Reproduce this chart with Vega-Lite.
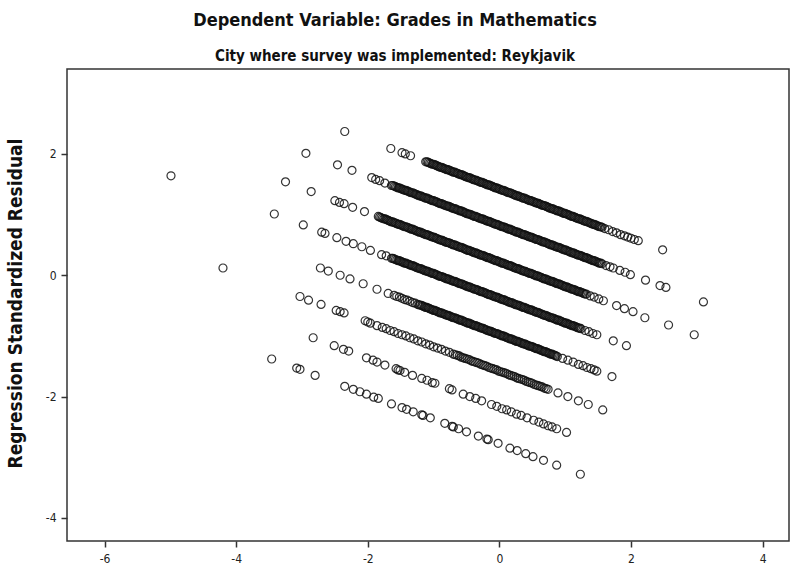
{
"$schema":"https://vega.github.io/schema/vega-lite/v6.json",
"width":722,"height":472,
"autosize":{"type":"none"},
"padding":{"left":67,"top":69,"right":1,"bottom":25},
"background":"#ffffff",
"config":{"view":{"stroke":"#333333","strokeWidth":1.5},"font":"DejaVu Sans Condensed, Liberation Sans Narrow, DejaVu Sans, sans-serif"},
"title":{"text":"Dependent Variable: Grades in Mathematics","subtitle":"City where survey was implemented: Reykjavik","anchor":"middle","dx":-33,"offset":5,"fontSize":18,"fontWeight":"bold","color":"#111111","subtitleFontSize":15,"subtitleFontWeight":"bold","subtitleColor":"#111111","subtitlePadding":19},
"data":{"values":[
{"x":-2.35,"y":2.37},{"x":-1.65,"y":2.09},{"x":-1.48,"y":2.02},{"x":-1.43,"y":2.0},{"x":-1.35,"y":1.97},
{"x":-1.12,"y":1.87},{"x":-1.08,"y":1.86},{"x":-1.04,"y":1.84},{"x":-1.0,"y":1.83},{"x":-0.96,"y":1.81},{"x":-0.92,"y":1.79},{"x":-0.88,"y":1.78},{"x":-0.84,"y":1.76},{"x":-0.8,"y":1.74},{"x":-0.76,"y":1.73},{"x":-0.72,"y":1.71},{"x":-0.68,"y":1.7},{"x":-0.64,"y":1.68},{"x":-0.6,"y":1.66},{"x":-0.56,"y":1.65},{"x":-0.52,"y":1.63},{"x":-0.48,"y":1.61},{"x":-0.44,"y":1.6},{"x":-0.4,"y":1.58},{"x":-0.36,"y":1.57},{"x":-0.32,"y":1.55},{"x":-0.28,"y":1.53},{"x":-0.24,"y":1.52},{"x":-0.2,"y":1.5},{"x":-0.16,"y":1.49},{"x":-0.12,"y":1.47},{"x":-0.08,"y":1.45},{"x":-0.04,"y":1.44},{"x":0.0,"y":1.42},{"x":0.04,"y":1.4},{"x":0.08,"y":1.39},{"x":0.12,"y":1.37},{"x":0.16,"y":1.36},{"x":0.2,"y":1.34},{"x":0.24,"y":1.32},{"x":0.28,"y":1.31},{"x":0.32,"y":1.29},{"x":0.36,"y":1.27},{"x":0.4,"y":1.26},{"x":0.44,"y":1.24},{"x":0.48,"y":1.23},{"x":0.52,"y":1.21},{"x":0.56,"y":1.19},{"x":0.6,"y":1.18},{"x":0.64,"y":1.16},{"x":0.68,"y":1.15},{"x":0.72,"y":1.13},{"x":0.76,"y":1.11},{"x":0.8,"y":1.1},{"x":0.84,"y":1.08},{"x":0.88,"y":1.06},{"x":0.92,"y":1.05},{"x":0.96,"y":1.03},{"x":1.0,"y":1.02},{"x":1.04,"y":1.0},{"x":1.08,"y":0.98},{"x":1.12,"y":0.97},{"x":1.16,"y":0.95},{"x":1.2,"y":0.93},{"x":1.24,"y":0.92},{"x":1.28,"y":0.9},{"x":1.32,"y":0.89},{"x":1.36,"y":0.87},{"x":1.4,"y":0.85},{"x":1.44,"y":0.84},{"x":1.48,"y":0.82},{"x":1.52,"y":0.8},{"x":1.56,"y":0.79},{"x":1.6,"y":0.77},
{"x":-1.1,"y":1.87},{"x":-1.06,"y":1.85},{"x":-1.02,"y":1.83},{"x":-0.98,"y":1.82},{"x":-0.94,"y":1.8},{"x":-0.9,"y":1.78},{"x":-0.86,"y":1.77},{"x":-0.82,"y":1.75},{"x":-0.78,"y":1.74},{"x":-0.74,"y":1.72},{"x":-0.7,"y":1.7},{"x":-0.66,"y":1.69},{"x":-0.62,"y":1.67},{"x":-0.58,"y":1.66},{"x":-0.54,"y":1.64},{"x":-0.5,"y":1.62},{"x":-0.46,"y":1.61},{"x":-0.42,"y":1.59},{"x":-0.38,"y":1.57},{"x":-0.34,"y":1.56},{"x":-0.3,"y":1.54},{"x":-0.26,"y":1.53},{"x":-0.22,"y":1.51},{"x":-0.18,"y":1.49},{"x":-0.14,"y":1.48},{"x":-0.1,"y":1.46},{"x":-0.06,"y":1.44},{"x":-0.02,"y":1.43},{"x":0.02,"y":1.41},{"x":0.06,"y":1.4},{"x":0.1,"y":1.38},{"x":0.14,"y":1.36},{"x":0.18,"y":1.35},{"x":0.22,"y":1.33},{"x":0.26,"y":1.31},{"x":0.3,"y":1.3},{"x":0.34,"y":1.28},{"x":0.38,"y":1.27},{"x":0.42,"y":1.25},{"x":0.46,"y":1.23},{"x":0.5,"y":1.22},{"x":0.54,"y":1.2},{"x":0.58,"y":1.19},{"x":0.62,"y":1.17},{"x":0.66,"y":1.15},{"x":0.7,"y":1.14},{"x":0.74,"y":1.12},{"x":0.78,"y":1.1},{"x":0.82,"y":1.09},{"x":0.86,"y":1.07},{"x":0.9,"y":1.06},{"x":0.94,"y":1.04},{"x":0.98,"y":1.02},{"x":1.02,"y":1.01},{"x":1.06,"y":0.99},{"x":1.1,"y":0.97},{"x":1.14,"y":0.96},{"x":1.18,"y":0.94},{"x":1.22,"y":0.93},{"x":1.26,"y":0.91},{"x":1.3,"y":0.89},{"x":1.34,"y":0.88},{"x":1.38,"y":0.86},{"x":1.42,"y":0.84},{"x":1.46,"y":0.83},{"x":1.5,"y":0.81},{"x":1.54,"y":0.8},
{"x":1.66,"y":0.75},{"x":1.72,"y":0.72},{"x":1.78,"y":0.7},{"x":1.84,"y":0.67},{"x":1.9,"y":0.65},{"x":1.95,"y":0.63},{"x":2.0,"y":0.61},{"x":2.05,"y":0.59},{"x":2.11,"y":0.57},{"x":2.48,"y":0.42},
{"x":-2.94,"y":2.01},{"x":-2.46,"y":1.82},{"x":-2.24,"y":1.73},{"x":-1.94,"y":1.61},{"x":-1.88,"y":1.58},{"x":-1.82,"y":1.56},{"x":-1.74,"y":1.52},
{"x":-1.64,"y":1.48},{"x":-1.6,"y":1.47},{"x":-1.56,"y":1.45},{"x":-1.52,"y":1.44},{"x":-1.48,"y":1.42},{"x":-1.44,"y":1.4},{"x":-1.4,"y":1.39},{"x":-1.36,"y":1.37},{"x":-1.32,"y":1.36},{"x":-1.28,"y":1.34},{"x":-1.24,"y":1.32},{"x":-1.2,"y":1.31},{"x":-1.16,"y":1.29},{"x":-1.12,"y":1.27},{"x":-1.08,"y":1.26},{"x":-1.04,"y":1.24},{"x":-1.0,"y":1.23},{"x":-0.96,"y":1.21},{"x":-0.92,"y":1.19},{"x":-0.88,"y":1.18},{"x":-0.84,"y":1.16},{"x":-0.8,"y":1.14},{"x":-0.76,"y":1.13},{"x":-0.72,"y":1.11},{"x":-0.68,"y":1.1},{"x":-0.64,"y":1.08},{"x":-0.6,"y":1.06},{"x":-0.56,"y":1.05},{"x":-0.52,"y":1.03},{"x":-0.48,"y":1.01},{"x":-0.44,"y":1.0},{"x":-0.4,"y":0.98},{"x":-0.36,"y":0.97},{"x":-0.32,"y":0.95},{"x":-0.28,"y":0.93},{"x":-0.24,"y":0.92},{"x":-0.2,"y":0.9},{"x":-0.16,"y":0.89},{"x":-0.12,"y":0.87},{"x":-0.08,"y":0.85},{"x":-0.04,"y":0.84},{"x":0.0,"y":0.82},{"x":0.04,"y":0.8},{"x":0.08,"y":0.79},{"x":0.12,"y":0.77},{"x":0.16,"y":0.76},{"x":0.2,"y":0.74},{"x":0.24,"y":0.72},{"x":0.28,"y":0.71},{"x":0.32,"y":0.69},{"x":0.36,"y":0.67},{"x":0.4,"y":0.66},{"x":0.44,"y":0.64},{"x":0.48,"y":0.63},{"x":0.52,"y":0.61},{"x":0.56,"y":0.59},{"x":0.6,"y":0.58},{"x":0.64,"y":0.56},{"x":0.68,"y":0.55},{"x":0.72,"y":0.53},{"x":0.76,"y":0.51},{"x":0.8,"y":0.5},{"x":0.84,"y":0.48},{"x":0.88,"y":0.46},{"x":0.92,"y":0.45},{"x":0.96,"y":0.43},{"x":1.0,"y":0.42},{"x":1.04,"y":0.4},{"x":1.08,"y":0.38},{"x":1.12,"y":0.37},{"x":1.16,"y":0.35},{"x":1.2,"y":0.33},{"x":1.24,"y":0.32},{"x":1.28,"y":0.3},{"x":1.32,"y":0.29},{"x":1.36,"y":0.27},{"x":1.4,"y":0.25},{"x":1.44,"y":0.24},{"x":1.48,"y":0.22},{"x":1.52,"y":0.2},{"x":1.56,"y":0.19},
{"x":-1.62,"y":1.48},{"x":-1.58,"y":1.46},{"x":-1.54,"y":1.44},{"x":-1.5,"y":1.43},{"x":-1.46,"y":1.41},{"x":-1.42,"y":1.4},{"x":-1.38,"y":1.38},{"x":-1.34,"y":1.36},{"x":-1.3,"y":1.35},{"x":-1.26,"y":1.33},{"x":-1.22,"y":1.31},{"x":-1.18,"y":1.3},{"x":-1.14,"y":1.28},{"x":-1.1,"y":1.27},{"x":-1.06,"y":1.25},{"x":-1.02,"y":1.23},{"x":-0.98,"y":1.22},{"x":-0.94,"y":1.2},{"x":-0.9,"y":1.18},{"x":-0.86,"y":1.17},{"x":-0.82,"y":1.15},{"x":-0.78,"y":1.14},{"x":-0.74,"y":1.12},{"x":-0.7,"y":1.1},{"x":-0.66,"y":1.09},{"x":-0.62,"y":1.07},{"x":-0.58,"y":1.06},{"x":-0.54,"y":1.04},{"x":-0.5,"y":1.02},{"x":-0.46,"y":1.01},{"x":-0.42,"y":0.99},{"x":-0.38,"y":0.97},{"x":-0.34,"y":0.96},{"x":-0.3,"y":0.94},{"x":-0.26,"y":0.93},{"x":-0.22,"y":0.91},{"x":-0.18,"y":0.89},{"x":-0.14,"y":0.88},{"x":-0.1,"y":0.86},{"x":-0.06,"y":0.84},{"x":-0.02,"y":0.83},{"x":0.02,"y":0.81},{"x":0.06,"y":0.8},{"x":0.1,"y":0.78},{"x":0.14,"y":0.76},{"x":0.18,"y":0.75},{"x":0.22,"y":0.73},{"x":0.26,"y":0.71},{"x":0.3,"y":0.7},{"x":0.34,"y":0.68},{"x":0.38,"y":0.67},{"x":0.42,"y":0.65},{"x":0.46,"y":0.63},{"x":0.5,"y":0.62},{"x":0.54,"y":0.6},{"x":0.58,"y":0.59},{"x":0.62,"y":0.57},{"x":0.66,"y":0.55},{"x":0.7,"y":0.54},{"x":0.74,"y":0.52},{"x":0.78,"y":0.5},{"x":0.82,"y":0.49},{"x":0.86,"y":0.47},{"x":0.9,"y":0.46},{"x":0.94,"y":0.44},{"x":0.98,"y":0.42},{"x":1.02,"y":0.41},{"x":1.06,"y":0.39},{"x":1.1,"y":0.37},{"x":1.14,"y":0.36},{"x":1.18,"y":0.34},{"x":1.22,"y":0.33},{"x":1.26,"y":0.31},{"x":1.3,"y":0.29},{"x":1.34,"y":0.28},{"x":1.38,"y":0.26},{"x":1.42,"y":0.24},{"x":1.46,"y":0.23},{"x":1.5,"y":0.21},{"x":1.54,"y":0.2},
{"x":1.62,"y":0.16},{"x":1.68,"y":0.14},{"x":1.73,"y":0.12},{"x":1.83,"y":0.08},{"x":1.91,"y":0.05},{"x":1.99,"y":0.01},{"x":2.22,"y":-0.08},{"x":2.44,"y":-0.17},{"x":2.53,"y":-0.2},{"x":3.1,"y":-0.44},
{"x":-3.25,"y":1.54},{"x":-2.86,"y":1.38},{"x":-2.5,"y":1.23},{"x":-2.43,"y":1.2},{"x":-2.36,"y":1.18},{"x":-2.23,"y":1.12},{"x":-2.05,"y":1.05},
{"x":-1.84,"y":0.97},{"x":-1.8,"y":0.95},{"x":-1.76,"y":0.93},{"x":-1.72,"y":0.92},{"x":-1.68,"y":0.9},{"x":-1.64,"y":0.88},{"x":-1.6,"y":0.87},{"x":-1.56,"y":0.85},{"x":-1.52,"y":0.84},{"x":-1.48,"y":0.82},{"x":-1.44,"y":0.8},{"x":-1.4,"y":0.79},{"x":-1.36,"y":0.77},{"x":-1.32,"y":0.76},{"x":-1.28,"y":0.74},{"x":-1.24,"y":0.72},{"x":-1.2,"y":0.71},{"x":-1.16,"y":0.69},{"x":-1.12,"y":0.67},{"x":-1.08,"y":0.66},{"x":-1.04,"y":0.64},{"x":-1.0,"y":0.63},{"x":-0.96,"y":0.61},{"x":-0.92,"y":0.59},{"x":-0.88,"y":0.58},{"x":-0.84,"y":0.56},{"x":-0.8,"y":0.54},{"x":-0.76,"y":0.53},{"x":-0.72,"y":0.51},{"x":-0.68,"y":0.5},{"x":-0.64,"y":0.48},{"x":-0.6,"y":0.46},{"x":-0.56,"y":0.45},{"x":-0.52,"y":0.43},{"x":-0.48,"y":0.41},{"x":-0.44,"y":0.4},{"x":-0.4,"y":0.38},{"x":-0.36,"y":0.37},{"x":-0.32,"y":0.35},{"x":-0.28,"y":0.33},{"x":-0.24,"y":0.32},{"x":-0.2,"y":0.3},{"x":-0.16,"y":0.29},{"x":-0.12,"y":0.27},{"x":-0.08,"y":0.25},{"x":-0.04,"y":0.24},{"x":0.0,"y":0.22},{"x":0.04,"y":0.2},{"x":0.08,"y":0.19},{"x":0.12,"y":0.17},{"x":0.16,"y":0.16},{"x":0.2,"y":0.14},{"x":0.24,"y":0.12},{"x":0.28,"y":0.11},{"x":0.32,"y":0.09},{"x":0.36,"y":0.07},{"x":0.4,"y":0.06},{"x":0.44,"y":0.04},{"x":0.48,"y":0.03},{"x":0.52,"y":0.01},{"x":0.56,"y":-0.01},{"x":0.6,"y":-0.02},{"x":0.64,"y":-0.04},{"x":0.68,"y":-0.06},{"x":0.72,"y":-0.07},{"x":0.76,"y":-0.09},{"x":0.8,"y":-0.1},{"x":0.84,"y":-0.12},{"x":0.88,"y":-0.14},{"x":0.92,"y":-0.15},{"x":0.96,"y":-0.17},{"x":1.0,"y":-0.19},{"x":1.04,"y":-0.2},{"x":1.08,"y":-0.22},{"x":1.12,"y":-0.23},{"x":1.16,"y":-0.25},{"x":1.2,"y":-0.27},{"x":1.24,"y":-0.28},{"x":1.28,"y":-0.3},{"x":1.32,"y":-0.31},
{"x":-1.82,"y":0.96},{"x":-1.78,"y":0.94},{"x":-1.74,"y":0.93},{"x":-1.7,"y":0.91},{"x":-1.66,"y":0.89},{"x":-1.62,"y":0.88},{"x":-1.58,"y":0.86},{"x":-1.54,"y":0.84},{"x":-1.5,"y":0.83},{"x":-1.46,"y":0.81},{"x":-1.42,"y":0.8},{"x":-1.38,"y":0.78},{"x":-1.34,"y":0.76},{"x":-1.3,"y":0.75},{"x":-1.26,"y":0.73},{"x":-1.22,"y":0.71},{"x":-1.18,"y":0.7},{"x":-1.14,"y":0.68},{"x":-1.1,"y":0.67},{"x":-1.06,"y":0.65},{"x":-1.02,"y":0.63},{"x":-0.98,"y":0.62},{"x":-0.94,"y":0.6},{"x":-0.9,"y":0.58},{"x":-0.86,"y":0.57},{"x":-0.82,"y":0.55},{"x":-0.78,"y":0.54},{"x":-0.74,"y":0.52},{"x":-0.7,"y":0.5},{"x":-0.66,"y":0.49},{"x":-0.62,"y":0.47},{"x":-0.58,"y":0.46},{"x":-0.54,"y":0.44},{"x":-0.5,"y":0.42},{"x":-0.46,"y":0.41},{"x":-0.42,"y":0.39},{"x":-0.38,"y":0.37},{"x":-0.34,"y":0.36},{"x":-0.3,"y":0.34},{"x":-0.26,"y":0.33},{"x":-0.22,"y":0.31},{"x":-0.18,"y":0.29},{"x":-0.14,"y":0.28},{"x":-0.1,"y":0.26},{"x":-0.06,"y":0.24},{"x":-0.02,"y":0.23},{"x":0.02,"y":0.21},{"x":0.06,"y":0.2},{"x":0.1,"y":0.18},{"x":0.14,"y":0.16},{"x":0.18,"y":0.15},{"x":0.22,"y":0.13},{"x":0.26,"y":0.11},{"x":0.3,"y":0.1},{"x":0.34,"y":0.08},{"x":0.38,"y":0.07},{"x":0.42,"y":0.05},{"x":0.46,"y":0.03},{"x":0.5,"y":0.02},{"x":0.54,"y":0.0},{"x":0.58,"y":-0.01},{"x":0.62,"y":-0.03},{"x":0.66,"y":-0.05},{"x":0.7,"y":-0.06},{"x":0.74,"y":-0.08},{"x":0.78,"y":-0.1},{"x":0.82,"y":-0.11},{"x":0.86,"y":-0.13},{"x":0.9,"y":-0.14},{"x":0.94,"y":-0.16},{"x":0.98,"y":-0.18},{"x":1.02,"y":-0.19},{"x":1.06,"y":-0.21},{"x":1.1,"y":-0.23},{"x":1.14,"y":-0.24},{"x":1.18,"y":-0.26},{"x":1.22,"y":-0.27},{"x":1.26,"y":-0.29},{"x":1.3,"y":-0.31},
{"x":1.38,"y":-0.34},{"x":1.44,"y":-0.36},{"x":1.51,"y":-0.39},{"x":1.58,"y":-0.42},{"x":1.78,"y":-0.5},{"x":1.9,"y":-0.55},{"x":2.03,"y":-0.6},{"x":2.21,"y":-0.7},{"x":2.57,"y":-0.82},{"x":2.96,"y":-0.98},
{"x":-4.99,"y":1.64},{"x":-3.42,"y":1.01},{"x":-2.98,"y":0.83},{"x":-2.7,"y":0.71},{"x":-2.65,"y":0.69},{"x":-2.47,"y":0.62},{"x":-2.33,"y":0.56},{"x":-2.22,"y":0.52},{"x":-2.09,"y":0.47},{"x":-1.96,"y":0.41},{"x":-1.79,"y":0.34},{"x":-1.72,"y":0.32},
{"x":-1.64,"y":0.28},{"x":-1.6,"y":0.27},{"x":-1.56,"y":0.25},{"x":-1.52,"y":0.24},{"x":-1.48,"y":0.22},{"x":-1.44,"y":0.2},{"x":-1.4,"y":0.19},{"x":-1.36,"y":0.17},{"x":-1.32,"y":0.16},{"x":-1.28,"y":0.14},{"x":-1.24,"y":0.12},{"x":-1.2,"y":0.11},{"x":-1.16,"y":0.09},{"x":-1.12,"y":0.07},{"x":-1.08,"y":0.06},{"x":-1.04,"y":0.04},{"x":-1.0,"y":0.03},{"x":-0.96,"y":0.01},{"x":-0.92,"y":-0.01},{"x":-0.88,"y":-0.02},{"x":-0.84,"y":-0.04},{"x":-0.8,"y":-0.06},{"x":-0.76,"y":-0.07},{"x":-0.72,"y":-0.09},{"x":-0.68,"y":-0.1},{"x":-0.64,"y":-0.12},{"x":-0.6,"y":-0.14},{"x":-0.56,"y":-0.15},{"x":-0.52,"y":-0.17},{"x":-0.48,"y":-0.19},{"x":-0.44,"y":-0.2},{"x":-0.4,"y":-0.22},{"x":-0.36,"y":-0.23},{"x":-0.32,"y":-0.25},{"x":-0.28,"y":-0.27},{"x":-0.24,"y":-0.28},{"x":-0.2,"y":-0.3},{"x":-0.16,"y":-0.32},{"x":-0.12,"y":-0.33},{"x":-0.08,"y":-0.35},{"x":-0.04,"y":-0.36},{"x":0.0,"y":-0.38},{"x":0.04,"y":-0.4},{"x":0.08,"y":-0.41},{"x":0.12,"y":-0.43},{"x":0.16,"y":-0.45},{"x":0.2,"y":-0.46},{"x":0.24,"y":-0.48},{"x":0.28,"y":-0.49},{"x":0.32,"y":-0.51},{"x":0.36,"y":-0.53},{"x":0.4,"y":-0.54},{"x":0.44,"y":-0.56},{"x":0.48,"y":-0.57},{"x":0.52,"y":-0.59},{"x":0.56,"y":-0.61},{"x":0.6,"y":-0.62},{"x":0.64,"y":-0.64},{"x":0.68,"y":-0.66},{"x":0.72,"y":-0.67},{"x":0.76,"y":-0.69},{"x":0.8,"y":-0.7},{"x":0.84,"y":-0.72},{"x":0.88,"y":-0.74},{"x":0.92,"y":-0.75},{"x":0.96,"y":-0.77},{"x":1.0,"y":-0.79},{"x":1.04,"y":-0.8},{"x":1.08,"y":-0.82},{"x":1.12,"y":-0.83},{"x":1.16,"y":-0.85},{"x":1.2,"y":-0.87},{"x":1.24,"y":-0.88},
{"x":-1.62,"y":0.28},{"x":-1.58,"y":0.26},{"x":-1.54,"y":0.24},{"x":-1.5,"y":0.23},{"x":-1.46,"y":0.21},{"x":-1.42,"y":0.2},{"x":-1.38,"y":0.18},{"x":-1.34,"y":0.16},{"x":-1.3,"y":0.15},{"x":-1.26,"y":0.13},{"x":-1.22,"y":0.11},{"x":-1.18,"y":0.1},{"x":-1.14,"y":0.08},{"x":-1.1,"y":0.07},{"x":-1.06,"y":0.05},{"x":-1.02,"y":0.03},{"x":-0.98,"y":0.02},{"x":-0.94,"y":0.0},{"x":-0.9,"y":-0.02},{"x":-0.86,"y":-0.03},{"x":-0.82,"y":-0.05},{"x":-0.78,"y":-0.06},{"x":-0.74,"y":-0.08},{"x":-0.7,"y":-0.1},{"x":-0.66,"y":-0.11},{"x":-0.62,"y":-0.13},{"x":-0.58,"y":-0.14},{"x":-0.54,"y":-0.16},{"x":-0.5,"y":-0.18},{"x":-0.46,"y":-0.19},{"x":-0.42,"y":-0.21},{"x":-0.38,"y":-0.23},{"x":-0.34,"y":-0.24},{"x":-0.3,"y":-0.26},{"x":-0.26,"y":-0.27},{"x":-0.22,"y":-0.29},{"x":-0.18,"y":-0.31},{"x":-0.14,"y":-0.32},{"x":-0.1,"y":-0.34},{"x":-0.06,"y":-0.36},{"x":-0.02,"y":-0.37},{"x":0.02,"y":-0.39},{"x":0.06,"y":-0.4},{"x":0.1,"y":-0.42},{"x":0.14,"y":-0.44},{"x":0.18,"y":-0.45},{"x":0.22,"y":-0.47},{"x":0.26,"y":-0.49},{"x":0.3,"y":-0.5},{"x":0.34,"y":-0.52},{"x":0.38,"y":-0.53},{"x":0.42,"y":-0.55},{"x":0.46,"y":-0.57},{"x":0.5,"y":-0.58},{"x":0.54,"y":-0.6},{"x":0.58,"y":-0.61},{"x":0.62,"y":-0.63},{"x":0.66,"y":-0.65},{"x":0.7,"y":-0.66},{"x":0.74,"y":-0.68},{"x":0.78,"y":-0.7},{"x":0.82,"y":-0.71},{"x":0.86,"y":-0.73},{"x":0.9,"y":-0.74},{"x":0.94,"y":-0.76},{"x":0.98,"y":-0.78},{"x":1.02,"y":-0.79},{"x":1.06,"y":-0.81},{"x":1.1,"y":-0.83},{"x":1.14,"y":-0.84},{"x":1.18,"y":-0.86},{"x":1.22,"y":-0.87},
{"x":1.3,"y":-0.91},{"x":1.36,"y":-0.93},{"x":1.42,"y":-0.96},{"x":1.48,"y":-0.98},{"x":1.73,"y":-1.08},{"x":1.93,"y":-1.16},
{"x":-2.72,"y":0.12},{"x":-2.6,"y":0.07},{"x":-2.42,"y":0.0},{"x":-2.27,"y":-0.06},{"x":-2.07,"y":-0.14},{"x":-1.86,"y":-0.23},{"x":-1.69,"y":-0.3},
{"x":-1.6,"y":-0.33},{"x":-1.56,"y":-0.35},{"x":-1.52,"y":-0.36},{"x":-1.48,"y":-0.38},{"x":-1.44,"y":-0.4},{"x":-1.4,"y":-0.41},{"x":-1.36,"y":-0.43},{"x":-1.32,"y":-0.45},{"x":-1.28,"y":-0.46},{"x":-1.24,"y":-0.48},{"x":-1.2,"y":-0.49},{"x":-1.16,"y":-0.51},{"x":-1.12,"y":-0.53},{"x":-1.08,"y":-0.54},{"x":-1.04,"y":-0.56},{"x":-1.0,"y":-0.58},{"x":-0.96,"y":-0.59},{"x":-0.92,"y":-0.61},{"x":-0.88,"y":-0.62},{"x":-0.84,"y":-0.64},{"x":-0.8,"y":-0.66},{"x":-0.76,"y":-0.67},{"x":-0.72,"y":-0.69},{"x":-0.68,"y":-0.7},{"x":-0.64,"y":-0.72},{"x":-0.6,"y":-0.74},{"x":-0.56,"y":-0.75},{"x":-0.52,"y":-0.77},{"x":-0.48,"y":-0.79},{"x":-0.44,"y":-0.8},{"x":-0.4,"y":-0.82},{"x":-0.36,"y":-0.83},{"x":-0.32,"y":-0.85},{"x":-0.28,"y":-0.87},{"x":-0.24,"y":-0.88},{"x":-0.2,"y":-0.9},{"x":-0.16,"y":-0.92},{"x":-0.12,"y":-0.93},{"x":-0.08,"y":-0.95},{"x":-0.04,"y":-0.96},{"x":0.0,"y":-0.98},{"x":0.04,"y":-1.0},{"x":0.08,"y":-1.01},{"x":0.12,"y":-1.03},{"x":0.16,"y":-1.05},{"x":0.2,"y":-1.06},{"x":0.24,"y":-1.08},{"x":0.28,"y":-1.09},{"x":0.32,"y":-1.11},{"x":0.36,"y":-1.13},{"x":0.4,"y":-1.14},{"x":0.44,"y":-1.16},{"x":0.48,"y":-1.17},{"x":0.52,"y":-1.19},{"x":0.56,"y":-1.21},{"x":0.6,"y":-1.22},{"x":0.64,"y":-1.24},{"x":0.68,"y":-1.26},{"x":0.72,"y":-1.27},{"x":0.76,"y":-1.29},{"x":0.8,"y":-1.3},{"x":0.84,"y":-1.32},{"x":0.88,"y":-1.34},
{"x":-1.22,"y":-0.49},{"x":-1.18,"y":-0.5},{"x":-1.14,"y":-0.52},{"x":-1.1,"y":-0.53},{"x":-1.06,"y":-0.55},{"x":-1.02,"y":-0.57},{"x":-0.98,"y":-0.58},{"x":-0.94,"y":-0.6},{"x":-0.9,"y":-0.62},{"x":-0.86,"y":-0.63},{"x":-0.82,"y":-0.65},{"x":-0.78,"y":-0.66},{"x":-0.74,"y":-0.68},{"x":-0.7,"y":-0.7},{"x":-0.66,"y":-0.71},{"x":-0.62,"y":-0.73},{"x":-0.58,"y":-0.74},{"x":-0.54,"y":-0.76},{"x":-0.5,"y":-0.78},{"x":-0.46,"y":-0.79},{"x":-0.42,"y":-0.81},{"x":-0.38,"y":-0.83},{"x":-0.34,"y":-0.84},{"x":-0.3,"y":-0.86},{"x":-0.26,"y":-0.87},{"x":-0.22,"y":-0.89},{"x":-0.18,"y":-0.91},{"x":-0.14,"y":-0.92},{"x":-0.1,"y":-0.94},{"x":-0.06,"y":-0.96},{"x":-0.02,"y":-0.97},{"x":0.02,"y":-0.99},{"x":0.06,"y":-1.0},{"x":0.1,"y":-1.02},{"x":0.14,"y":-1.04},{"x":0.18,"y":-1.05},{"x":0.22,"y":-1.07},{"x":0.26,"y":-1.09},{"x":0.3,"y":-1.1},{"x":0.34,"y":-1.12},{"x":0.38,"y":-1.13},{"x":0.42,"y":-1.15},{"x":0.46,"y":-1.17},{"x":0.5,"y":-1.18},{"x":0.54,"y":-1.2},{"x":0.58,"y":-1.21},{"x":0.62,"y":-1.23},{"x":0.66,"y":-1.25},{"x":0.7,"y":-1.26},{"x":0.74,"y":-1.28},{"x":0.78,"y":-1.3},{"x":0.82,"y":-1.31},{"x":0.86,"y":-1.33},
{"x":0.96,"y":-1.37},{"x":1.04,"y":-1.4},{"x":1.12,"y":-1.43},{"x":1.2,"y":-1.47},{"x":1.27,"y":-1.49},{"x":1.33,"y":-1.52},{"x":1.39,"y":-1.54},{"x":1.44,"y":-1.56},{"x":1.48,"y":-1.58},{"x":1.71,"y":-1.67},
{"x":-4.2,"y":0.12},{"x":-3.03,"y":-0.35},{"x":-2.9,"y":-0.41},{"x":-2.71,"y":-0.48},{"x":-2.48,"y":-0.58},{"x":-2.42,"y":-0.6},{"x":-2.36,"y":-0.62},
{"x":-2.04,"y":-0.75},{"x":-2.0,"y":-0.77},{"x":-1.96,"y":-0.79},{"x":-1.86,"y":-0.83},{"x":-1.78,"y":-0.86},{"x":-1.72,"y":-0.88},{"x":-1.66,"y":-0.91},{"x":-1.6,"y":-0.93},{"x":-1.54,"y":-0.96},{"x":-1.48,"y":-0.98},{"x":-1.42,"y":-1.0},{"x":-1.36,"y":-1.03},{"x":-1.3,"y":-1.05},{"x":-1.24,"y":-1.08},{"x":-1.18,"y":-1.1},{"x":-1.12,"y":-1.13},{"x":-1.06,"y":-1.15},{"x":-1.0,"y":-1.18},{"x":-0.94,"y":-1.2},{"x":-0.88,"y":-1.22},{"x":-0.82,"y":-1.25},{"x":-0.76,"y":-1.27},{"x":-0.7,"y":-1.3},{"x":-0.64,"y":-1.32},{"x":-0.58,"y":-1.35},{"x":-0.52,"y":-1.37},{"x":-0.46,"y":-1.39},{"x":-0.4,"y":-1.42},{"x":-0.34,"y":-1.44},{"x":-0.28,"y":-1.47},{"x":-0.22,"y":-1.49},{"x":-0.16,"y":-1.52},{"x":-0.1,"y":-1.54},{"x":-0.04,"y":-1.56},{"x":0.02,"y":-1.59},{"x":0.08,"y":-1.61},{"x":0.14,"y":-1.64},{"x":0.2,"y":-1.66},{"x":0.26,"y":-1.69},{"x":0.32,"y":-1.71},{"x":0.38,"y":-1.73},{"x":0.44,"y":-1.76},{"x":0.5,"y":-1.78},{"x":0.56,"y":-1.81},{"x":0.62,"y":-1.83},{"x":0.68,"y":-1.86},{"x":0.74,"y":-1.88},{"x":0.89,"y":-1.94},{"x":1.04,"y":-2.0},{"x":1.2,"y":-2.07},{"x":1.35,"y":-2.13},{"x":1.57,"y":-2.22},
{"x":-0.67,"y":-1.31},{"x":-0.61,"y":-1.33},{"x":-0.55,"y":-1.36},{"x":-0.49,"y":-1.38},{"x":-0.43,"y":-1.41},{"x":-0.37,"y":-1.43},{"x":-0.31,"y":-1.45},{"x":-0.25,"y":-1.48},{"x":-0.19,"y":-1.5},{"x":-0.13,"y":-1.53},{"x":-0.07,"y":-1.55},{"x":-0.01,"y":-1.58},{"x":0.05,"y":-1.6},{"x":0.11,"y":-1.62},{"x":0.17,"y":-1.65},{"x":0.23,"y":-1.67},{"x":0.29,"y":-1.7},{"x":0.35,"y":-1.72},{"x":0.41,"y":-1.75},{"x":0.47,"y":-1.77},{"x":0.53,"y":-1.8},{"x":0.59,"y":-1.82},{"x":0.65,"y":-1.84},{"x":0.71,"y":-1.87},
{"x":-2.83,"y":-1.03},{"x":-2.51,"y":-1.16},{"x":-2.37,"y":-1.22},{"x":-2.29,"y":-1.25},{"x":-2.02,"y":-1.36},{"x":-1.92,"y":-1.4},{"x":-1.86,"y":-1.43},{"x":-1.74,"y":-1.48},{"x":-1.57,"y":-1.54},{"x":-1.54,"y":-1.56},{"x":-1.51,"y":-1.57},{"x":-1.44,"y":-1.6},{"x":-1.32,"y":-1.65},{"x":-1.18,"y":-1.7},{"x":-1.1,"y":-1.73},{"x":-1.02,"y":-1.77},{"x":-0.98,"y":-1.78},{"x":-0.76,"y":-1.87},{"x":-0.72,"y":-1.89},{"x":-0.55,"y":-1.96},{"x":-0.45,"y":-2.0},{"x":-0.36,"y":-2.03},{"x":-0.27,"y":-2.07},{"x":-0.12,"y":-2.13},{"x":-0.04,"y":-2.16},{"x":0.04,"y":-2.2},{"x":0.11,"y":-2.22},{"x":0.18,"y":-2.25},{"x":0.26,"y":-2.29},{"x":0.33,"y":-2.31},{"x":0.42,"y":-2.35},{"x":0.52,"y":-2.39},{"x":0.6,"y":-2.42},{"x":0.67,"y":-2.45},{"x":0.74,"y":-2.48},{"x":0.8,"y":-2.5},{"x":0.87,"y":-2.53},{"x":1.02,"y":-2.59},
{"x":-3.46,"y":-1.38},{"x":-3.08,"y":-1.53},{"x":-3.03,"y":-1.55},{"x":-2.8,"y":-1.65},{"x":-2.35,"y":-1.83},{"x":-2.22,"y":-1.88},{"x":-2.12,"y":-1.92},{"x":-2.02,"y":-1.96},{"x":-1.91,"y":-2.01},{"x":-1.84,"y":-2.03},{"x":-1.64,"y":-2.12},{"x":-1.48,"y":-2.18},{"x":-1.41,"y":-2.21},{"x":-1.31,"y":-2.25},{"x":-1.18,"y":-2.3},{"x":-1.16,"y":-2.31},{"x":-1.05,"y":-2.35},{"x":-0.83,"y":-2.44},{"x":-0.72,"y":-2.49},{"x":-0.7,"y":-2.5},{"x":-0.62,"y":-2.53},{"x":-0.5,"y":-2.58},{"x":-0.32,"y":-2.65},{"x":-0.19,"y":-2.7},{"x":-0.17,"y":-2.71},{"x":-0.02,"y":-2.77},{"x":0.16,"y":-2.85},{"x":0.27,"y":-2.89},{"x":0.4,"y":-2.94},{"x":0.51,"y":-2.99},{"x":0.67,"y":-3.05},{"x":0.87,"y":-3.13},{"x":1.23,"y":-3.28}
]},
"mark":{"type":"point","shape":"circle","filled":false,"size":64,"stroke":"#111111","strokeWidth":1.2,"opacity":0.85},
"encoding":{
"x":{"field":"x","type":"quantitative","scale":{"domain":[-6.57,4.4],"nice":false,"zero":false},"axis":{"values":[-6,-4,-2,0,2,4],"labelExpr":"'' + datum.value","title":null,"grid":false,"domain":false,"tickSize":6,"tickWidth":1.5,"tickColor":"#333333","labelFontSize":12,"labelColor":"#222222","labelPadding":6}},
"y":{"field":"y","type":"quantitative","scale":{"domain":[-4.38,3.4],"nice":false,"zero":false},"axis":{"values":[-4,-2,0,2],"labelExpr":"'' + datum.value","title":"Regression Standardized Residual","grid":false,"domain":false,"tickSize":6,"tickWidth":1.5,"tickColor":"#333333","labelFontSize":12,"labelColor":"#222222","labelPadding":5,"titleFontSize":19,"titleFontWeight":"bold","titleColor":"#111111","titleX":-52,"titleY":234,"titleBaseline":"middle","titleAngle":-90}}
}
}
